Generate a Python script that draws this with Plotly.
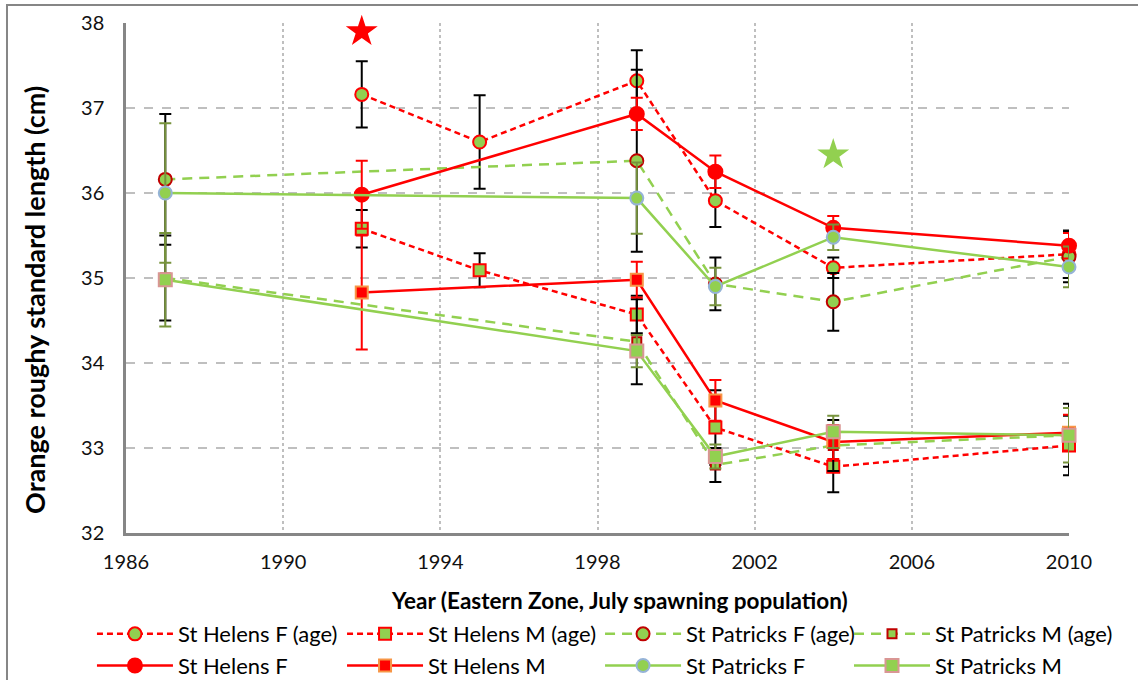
import plotly.graph_objects as go

# Survey years (July spawning population, Eastern Zone)
years = [1987, 1992, 1995, 1999, 2001, 2004, 2010]

# Mean standard length (cm) and error half-widths; None = no survey estimate
sh_f_age = [None, 37.16, 36.60, 37.32, 35.91, 35.12, 35.28]
sh_f_age_err = [None, 0.39, 0.55, 0.36, 0.31, 0.12, 0.28]
sh_m_age = [None, 35.58, 35.09, 34.57, 33.24, 32.78, 33.03]
sh_m_age_err = [None, 0.22, 0.20, 0.22, 0.44, 0.30, 0.35]
sp_f_age = [36.16, None, None, 36.38, 34.93, 34.72, 35.25]
sp_f_age_err = [0.77, None, None, 1.07, 0.31, 0.34, 0.30]
sp_m_age = [35.00, None, None, 34.25, 32.80, 33.03, 33.15]
sp_m_age_err = [0.50, None, None, 0.50, 0.20, 0.30, 0.37]

sh_f = [None, 35.98, None, 36.93, 36.25, 35.59, 35.38]
sh_f_err = [None, 0.40, None, 0.19, 0.19, 0.14, 0.15]
sh_m = [None, 34.83, None, 34.98, 33.56, 33.07, 33.18]
sh_m_err = [None, 0.67, None, 0.21, 0.24, 0.20, 0.21]
sp_f = [36.00, None, None, 35.94, 34.90, 35.48, 35.13]
sp_f_err = [0.82, None, None, 0.42, 0.22, 0.15, 0.24]
sp_m = [34.98, None, None, 34.14, 32.90, 33.19, 33.15]
sp_m_err = [0.55, None, None, 0.19, 0.14, 0.19, 0.32]

# Significance markers
star_years = [1992, 2004]
star_vals = [37.90, 36.45]

X_TITLE = "Year (Eastern Zone, July spawning population)"
Y_TITLE = "Orange roughy standard length (cm)"

RED = "#FF0000"
GREEN = "#92D050"
OLIVE = "#77933C"
DARKRED = "#C00000"
BLUE = "#95B3D7"
PINK = "#D99694"
ORANGE = "#F79646"
BLACK = "#000000"

FONT = "Lato, 'Open Sans', sans-serif"

series = [
    # name, y, err, line colour, dash, symbol, size, fill, outline, err colour, legend column
    ("St Helens F (age)", sh_f_age, sh_f_age_err, RED, "6px,4px", "circle", 13, GREEN, RED, BLACK, "legend"),
    ("St Helens M (age)", sh_m_age, sh_m_age_err, RED, "6px,4px", "square", 12, GREEN, RED, BLACK, "legend2"),
    ("St Patricks F (age)", sp_f_age, sp_f_age_err, GREEN, "10px,7px", "circle", 13, GREEN, DARKRED, BLACK, "legend3"),
    ("St Patricks M (age)", sp_m_age, sp_m_age_err, GREEN, "10px,7px", "square", 9, GREEN, DARKRED, BLACK, "legend4"),
    ("St Helens F", sh_f, sh_f_err, RED, "solid", "circle", 14, RED, RED, RED, "legend"),
    ("St Helens M", sh_m, sh_m_err, RED, "solid", "square", 12, RED, ORANGE, RED, "legend2"),
    ("St Patricks F", sp_f, sp_f_err, GREEN, "solid", "circle", 13, GREEN, BLUE, OLIVE, "legend3"),
    ("St Patricks M", sp_m, sp_m_err, GREEN, "solid", "square", 13, GREEN, PINK, OLIVE, "legend4"),
]

fig = go.Figure()
for name, y, err, lc, dash, sym, size, fill, outline, ec, leg in series:
    fig.add_trace(go.Scatter(
        x=years, y=y, name=name, mode="lines+markers", connectgaps=True,
        line=dict(color=lc, width=2.5, dash=dash),
        marker=dict(symbol=sym, size=size, color=fill,
                    line=dict(color=outline, width=2)),
        error_y=dict(type="data", array=err, visible=True, color=ec,
                     thickness=2, width=6),
        cliponaxis=False, legend=leg,
    ))

fig.add_trace(go.Scatter(
    x=star_years, y=star_vals, mode="markers", showlegend=False,
    marker=dict(symbol="star", size=24, color=[RED, GREEN], line=dict(width=0)),
    cliponaxis=False,
))

# One two-row legend column per pair of series
legend_cols = {"legend": -0.0361, "legend2": 0.2291, "legend3": 0.5027, "legend4": 0.7667}
legend_layout = {
    key: dict(
        orientation="v", x=xpos, xanchor="left", y=-0.157, yanchor="top",
        itemwidth=76, font=dict(size=22, family=FONT), tracegroupgap=0,
        bgcolor="rgba(0,0,0,0)",
    )
    for key, xpos in legend_cols.items()
}

fig.update_layout(
    width=1138, height=680,
    margin=dict(l=126, r=69, t=23, b=147, autoexpand=False),
    paper_bgcolor="white", plot_bgcolor="white",
    font=dict(family=FONT, size=20, color="#000"),
    xaxis=dict(
        range=[1986, 2010], tick0=1986, dtick=4, tickformat="d",
        showgrid=True, gridcolor="#BFBFBF", griddash="dot", gridwidth=1.5,
        showline=True, linecolor="#868686", linewidth=2.5,
        zeroline=False, ticks="", ticklabelstandoff=9,
        tickfont=dict(size=20, family=FONT, color="#111"),
    ),
    yaxis=dict(
        range=[32, 38], dtick=1,
        showgrid=True, gridcolor="#BFBFBF", griddash="dash", gridwidth=1.5,
        showline=True, linecolor="#868686", linewidth=2.5,
        zeroline=False, ticks="", ticklabelstandoff=15,
        tickfont=dict(size=20, family=FONT, color="#111"),
    ),
    annotations=[
        dict(text=f"<b>{X_TITLE}</b>", xref="paper", yref="paper",
             x=0.5228, y=-0.1314, xanchor="center", yanchor="middle",
             showarrow=False, font=dict(size=22.5, family=FONT, color="#000")),
        dict(text=f"<b>{Y_TITLE}</b>", xref="paper", yref="paper",
             x=-0.0965, y=0.457, xanchor="center", yanchor="middle",
             textangle=-90, showarrow=False,
             font=dict(size=27, family=FONT, color="#000")),
    ],
    shapes=[dict(type="rect", xref="paper", yref="paper",
                 x0=-0.1262, x1=1.2, y0=-0.5, y1=1.0353,
                 line=dict(color="#868686", width=2), layer="below")],
    **legend_layout,
)

fig.write_html("out.html")
